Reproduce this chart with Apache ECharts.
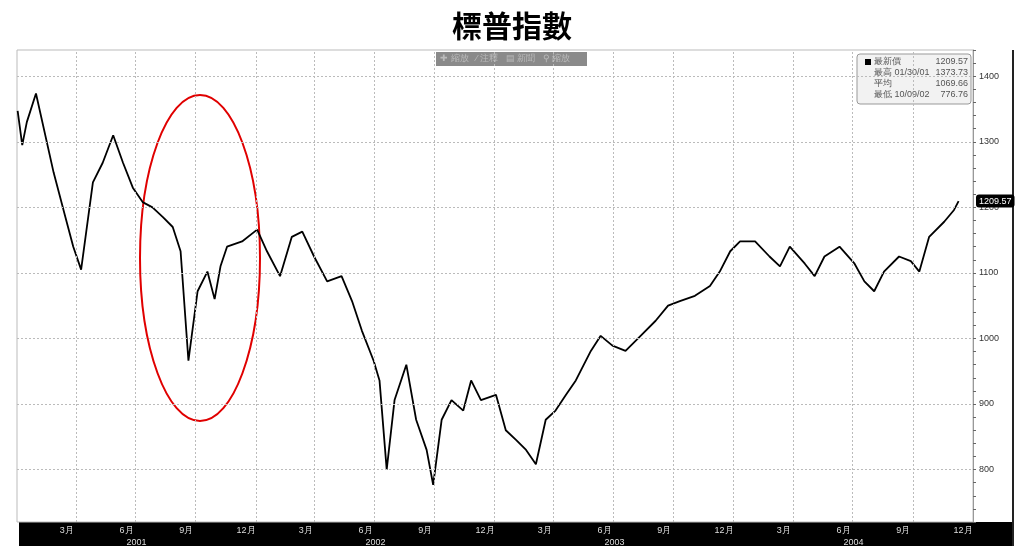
<!DOCTYPE html>
<html><head><meta charset="utf-8">
<script src="https://cdn.jsdelivr.net/npm/echarts@6/dist/echarts.min.js"></script>
<style>html,body{margin:0;padding:0;background:#fff}#c{width:1024px;height:558px}</style>
</head><body><div id="c"></div>
<script>
const dates = ['2001-01-02','2001-01-09','2001-01-16','2001-01-30','2001-02-26','2001-03-16','2001-03-28','2001-04-09','2001-04-27','2001-05-12','2001-05-28','2001-06-12','2001-06-27','2001-07-12','2001-07-27','2001-08-12','2001-08-27','2001-09-08','2001-09-20','2001-10-04','2001-10-19','2001-10-30','2001-11-08','2001-11-18','2001-12-11',
'2002-01-03','2002-01-18','2002-02-07','2002-02-25','2002-03-13','2002-03-31','2002-04-20','2002-05-12','2002-05-28','2002-06-12','2002-06-30','2002-07-09','2002-07-20','2002-08-01','2002-08-19','2002-09-03','2002-09-19','2002-09-29','2002-10-12','2002-10-27','2002-11-14','2002-11-26','2002-12-11',
'2003-01-03','2003-01-18','2003-02-03','2003-02-18','2003-03-05','2003-03-20','2003-04-04','2003-04-20','2003-05-05','2003-05-28','2003-06-12','2003-06-30','2003-07-20','2003-08-12','2003-09-04','2003-09-23','2003-10-11','2003-11-03','2003-11-26','2003-12-11','2003-12-27',
'2004-01-11','2004-02-03','2004-02-25','2004-03-12','2004-03-27','2004-04-19','2004-05-04','2004-05-19','2004-06-11','2004-07-04','2004-07-19','2004-08-03','2004-08-18','2004-09-10','2004-09-28','2004-10-11','2004-10-26','2004-11-18','2004-12-03','2004-12-10'];
const values = [1347,1295,1330,1373.73,1253,1185,1140,1105,1238,1268,1310,1268,1230,1208,1200,1185,1170,1133,966,1072,1102,1060,1110,1140,1148,
1166,1133,1095,1155,1163,1125,1087,1095,1057,1012,966,936,800,906,960,876,830,776.76,876,906,890,936,906,
914,860,845,830,808,876,890,914,936,981,1004,989,981,1004,1027,1050,1057,1065,1080,1102,1133,
1148,1148,1125,1110,1140,1114,1095,1125,1140,1114,1087,1072,1102,1125,1118,1102,1155,1178,1196,1209.57];
const quarterLines = ['2001-04-01','2001-07-01','2001-10-01','2002-01-01','2002-04-01','2002-07-01','2002-10-01','2003-01-01','2003-04-01','2003-07-01','2003-10-01','2004-01-01','2004-04-01','2004-07-01','2004-10-01'];
const yGrid = [800,900,1000,1100,1200,1300,1400];
const months = [];
for (let y=2001;y<=2004;y++) for (let m=1;m<=12;m++) months.push(m+'月');
const years = ['2001','2002','2003','2004'];
const legendRows = [['最新價','','1209.57'],['最高','01/30/01','1373.73'],['平均','','1069.66'],['最低','10/09/02','776.76']];

const chart = echarts.init(document.getElementById('c'));
const L=17,R=51,T=50,B=36;
chart.setOption({
  animation:false,
  title:{text:'標普指數',left:'center',top:6,textStyle:{fontSize:30,fontWeight:'bold',color:'#000',fontFamily:'Noto Sans CJK TC'}},
  grid:{left:L,right:R,top:T,bottom:B,show:true,borderColor:'#bbb',borderWidth:1},
  xAxis:[
    {type:'time',min:'2001-01-01',max:'2005-01-01',axisLabel:{show:false},axisTick:{show:false},axisLine:{show:false},splitLine:{show:false}},
    {type:'category',data:months,position:'bottom',gridIndex:0,axisLine:{show:false},axisTick:{show:false},
      axisLabel:{color:'#ddd',fontSize:9,margin:4,interval:(i)=>i%3===2}},
    {type:'category',data:years,position:'bottom',offset:12,gridIndex:0,axisLine:{show:false},axisTick:{show:false},
      axisLabel:{color:'#ddd',fontSize:9,margin:4}}
  ],
  yAxis:{type:'value',position:'right',min:720,max:1440,interval:20,
    axisLine:{show:true,lineStyle:{color:'#999'}},axisTick:{show:true,length:3,lineStyle:{color:'#666'}},
    splitLine:{show:false},
    axisLabel:{fontSize:9,color:'#333',margin:6,formatter:v=>(v%100===0&&v>=800&&v<=1400)?String(v):''},
    axisPointer:{show:true,value:1209.57,status:'show',type:'line',lineStyle:{opacity:0},
      label:{backgroundColor:'#000',color:'#fff',fontSize:9,padding:[2,3],formatter:p=>Number(p.value).toFixed(2)}}
  },
  series:[{type:'line',data:dates.map((d,i)=>[d,values[i]]),xAxisIndex:0,symbol:'none',
    lineStyle:{color:'#000',width:1.8},
    markLine:{silent:true,symbol:'none',label:{show:false},lineStyle:{color:'#bbb',type:[2,2],width:1},
      data:[...quarterLines.map(q=>({xAxis:q})),...yGrid.map(v=>({yAxis:v}))]}}],
  graphic:[
    {type:'rect',shape:{x:19,y:522,width:994,height:24},style:{fill:'#000'},z:-1},
    {type:'line',shape:{x1:1013,y1:50,x2:1013,y2:546},style:{stroke:'#222',lineWidth:2}},
    {type:'ellipse',shape:{cx:200,cy:258,rx:60,ry:163},style:{fill:'none',stroke:'#e00000',lineWidth:2}},
    {type:'rect',shape:{x:436,y:52,width:151,height:14},style:{fill:'#8a8a8a'}},
    {type:'text',style:{x:440,y:54,text:'✚ 縮放   ⁄ 注釋   ▤ 新聞   ⚲ 縮放',fill:'#bbb',fontSize:9}},
    {type:'rect',shape:{x:857,y:54,width:114,height:50,r:3},style:{fill:'#f2f2f2',stroke:'#999'}},
    ...legendRows.flatMap((r,i)=>[
      {type:'text',style:{x:874,y:57+i*11,text:r[0]+(r[1]?' '+r[1]:''),fill:'#555',fontSize:9}},
      {type:'text',style:{x:968,y:57+i*11,text:r[2],fill:'#555',fontSize:9,align:'right'}}
    ]),
    {type:'rect',shape:{x:865,y:59,width:6,height:6},style:{fill:'#000'}}
  ]
});
</script></body></html>
